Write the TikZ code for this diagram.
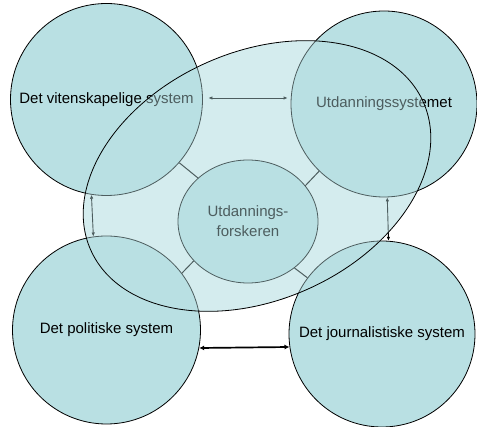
\documentclass[tikz,border=0pt]{standalone}
\usepackage{fontspec}
\setmainfont{Liberation Sans}
\usetikzlibrary{shapes.geometric,arrows.meta}
\definecolor{cblue}{RGB}{185,224,227}
\definecolor{paleblue}{RGB}{232,245,246}
\begin{document}
\begin{tikzpicture}[x=1pt,y=1pt,
  sys/.style={circle,draw=black,line width=0.8pt,fill=cblue,inner sep=0pt,
    font=\fontsize{15}{20}\selectfont},
  core/.style={ellipse,draw=black,line width=0.8pt,fill=cblue,inner sep=0pt,
    align=center,font=\fontsize{15}{20}\selectfont},
  link/.style={draw=black,line width=1pt},
  thinarrow/.style={draw=black,line width=0.9pt,
    {Latex[length=4pt,width=3.5pt]}-{Latex[length=4pt,width=3.5pt]}},
  thickarrow/.style={draw=black,line width=1.7pt,
    {Latex[length=5pt,width=5pt]}-{Latex[length=5pt,width=5pt]}},
  veil/.style={fill=cblue,fill opacity=0.42},
  bigell/.style={rotate around={24:(257,-176)}}]
\useasboundingbox (0,0) rectangle (477,-427);
% base of the ellipse
\path[bigell,fill=paleblue] (257,-176) ellipse [x radius=182, y radius=124];
\node[sys,minimum size=192pt] (tl) at (106.5,-99.5) {Det vitenskapelige system};
\node[sys,minimum size=186pt] (tr) at (384,-104) {Utdanningssystemet};
\node[sys,minimum size=188pt] (bl) at (106.5,-330) {Det politiske system};
\node[sys,minimum size=186pt] (br) at (382,-334) {Det journalistiske system};
\node[core,minimum width=140pt,minimum height=123pt] (fo) at (248,-221.5) {Utdannings-\\forskeren};
% radial links
\draw[link] (tl.319.6) -- (fo.139.5);
\draw[link] (tr.226.7) -- (fo.32.6);
\draw[link] (bl.37.5) -- (fo.216.4);
\draw[link] (br.143.3) -- (fo.315.3);
% arrows
\draw[thinarrow] ([xshift=5.5pt,yshift=1.5pt]tl.east) -- ([xshift=-3pt,yshift=6pt]tr.west);
\draw[thinarrow] (tl.261.4) -- (bl.98.8);
\draw[thinarrow] (tr.272.5) -- (br.86.3);
\draw[thickarrow] (bl.349.6) -- (br.188);
% overlay ellipse
\path[veil,bigell] (257,-176) ellipse [x radius=182, y radius=124];
\draw[line width=0.8pt,bigell] (257,-176) ellipse [x radius=182, y radius=124];
\end{tikzpicture}
\end{document}
